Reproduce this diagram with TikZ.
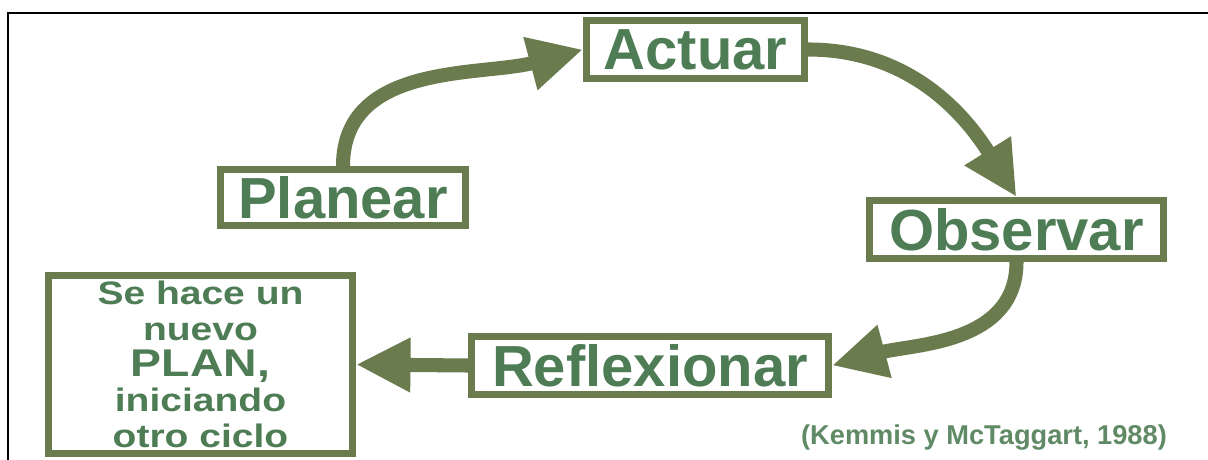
\documentclass[tikz,border=0pt]{standalone}
\usepackage{fontspec}
\setmainfont{Liberation Sans}
\newfontfamily\widesans[FakeStretch=1.2]{Liberation Sans}
\usepackage{tikz}
\usetikzlibrary{arrows.meta,positioning}
\definecolor{cOlive}{HTML}{6A7B4E}
\definecolor{cLeaf}{HTML}{4E7D55}
\tikzset{
  stage/.style = {rectangle, draw=cOlive, line width=4pt, fill=white, text=cLeaf,
                  inner sep=0pt, font=\bfseries\fontsize{33}{36}\selectfont},
  cyc/.style   = {-{Triangle[length=31pt,width=29pt]}, draw=cOlive, line width=8pt},
  cite/.style  = {text=cLeaf!90!white, font=\bfseries\fontsize{15.5}{18}\selectfont},
}
\begin{document}
\begin{tikzpicture}[x=0.02cm, y=0.02cm]
  \useasboundingbox (0,0) rectangle (1208,460);
  \draw[line width=1.5pt] (8,0) -- (8,447) -- (1208,447);

  \node[stage, minimum width=4.36cm, minimum height=1.16cm] (act) at (695.5,410.5) {Actuar};
  \node[stage, minimum width=4.92cm, minimum height=1.12cm] (pla) at (343,262.5) {Planear};
  \node[stage, minimum width=5.88cm, minimum height=1.16cm] (obs) at (1016.5,230.5) {Observar};
  \node[stage, minimum width=7.14cm, minimum height=1.16cm] (ref) at (650,94.5) {Reflexionar};
  \node[stage, align=center, minimum width=6.08cm, minimum height=3.56cm,
        font=\widesans\bfseries\fontsize{18.5}{20.3}\selectfont] (nvo) at (200.5,95.5)
        {Se hace un\\nuevo\\{\fontsize{22}{20.3}\selectfont PLAN,}\\iniciando\\otro ciclo};
  \node[cite] (cit) at (984,22) {(Kemmis y McTaggart, 1988)};

  \draw[cyc] (pla.north) to[out=90, in=195] (act.west);
  \draw[cyc] (act.east) to[out=0, in=122] (obs.north);
  \draw[cyc] (obs.south) to[out=-90, in=15] (ref.east);
  \draw[cyc] (ref.west) -- (nvo.east);
\end{tikzpicture}
\end{document}
